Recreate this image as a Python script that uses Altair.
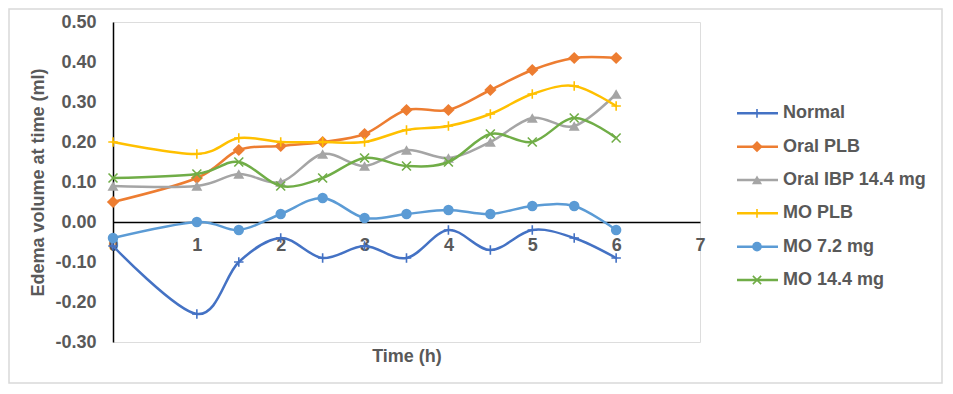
import altair as alt
import pandas as pd

# ---------------- data ----------------
time_h = [0, 1, 1.5, 2, 2.5, 3, 3.5, 4, 4.5, 5, 5.5, 6]
series_names = ["Normal", "Oral PLB", "Oral IBP 14.4 mg", "MO PLB", "MO 7.2 mg", "MO 14.4 mg"]
normal     = [-0.06, -0.23, -0.10, -0.04, -0.09, -0.06, -0.09, -0.02, -0.07, -0.02, -0.04, -0.09]
oral_plb   = [0.05, 0.11, 0.18, 0.19, 0.20, 0.22, 0.28, 0.28, 0.33, 0.38, 0.41, 0.41]
oral_ibp   = [0.09, 0.09, 0.12, 0.10, 0.17, 0.14, 0.18, 0.16, 0.20, 0.26, 0.24, 0.32]
mo_plb     = [0.20, 0.17, 0.21, 0.20, 0.20, 0.20, 0.23, 0.24, 0.27, 0.32, 0.34, 0.29]
mo_72      = [-0.04, 0.00, -0.02, 0.02, 0.06, 0.01, 0.02, 0.03, 0.02, 0.04, 0.04, -0.02]
mo_144     = [0.11, 0.12, 0.15, 0.09, 0.11, 0.16, 0.14, 0.15, 0.22, 0.20, 0.26, 0.21]
series_values = [normal, oral_plb, oral_ibp, mo_plb, mo_72, mo_144]
x_ticks = [0, 1, 2, 3, 4, 5, 6, 7]
y_ticks = [-0.3, -0.2, -0.1, 0.0, 0.1, 0.2, 0.3, 0.4, 0.5]

# ---------------- styles ----------------
PLUS = "M-1,0L1,0M0,-1L0,1"
XMARK = "M-1,-1L1,1M-1,1L1,-1"
colors = ["#4472C4", "#ED7D31", "#A5A5A5", "#FFC000", "#5B9BD5", "#70AD47"]
shapes = [PLUS, "diamond", "triangle-up", PLUS, "circle", XMARK]
filled = [False, True, True, False, True, False]
sizes = [90, 150, 120, 90, 110, 80]
FONT = "Liberation Sans"
GREY = "#595959"

rows = []
for name, vals in zip(series_names, series_values):
    for t, v in zip(time_h, vals):
        rows.append({"series": name, "time": t, "value": v})
df = pd.DataFrame(rows)
leg = pd.DataFrame({"series": series_names})

W, H = 587, 320
ymin, ymax = -0.3, 0.5
zero_offset = -H * (0 - ymin) / (ymax - ymin)

x_scale = alt.Scale(domain=[0, 7], nice=False, zero=False)
y_scale = alt.Scale(domain=[ymin, ymax], nice=False, zero=False)

x_axis = alt.Axis(
    values=x_ticks, offset=zero_offset, domainColor="black", domainWidth=1.5,
    ticks=False, tickSize=0, grid=False, labelPadding=14, labelFont=FONT,
    labelFontSize=18, labelFontWeight="bold", labelColor=GREY,
    title="Time (h)", titleFont=FONT, titleFontSize=18, titleFontWeight="bold",
    titleColor=GREY, titleY=139, titleBaseline="alphabetic", labelFlush=False,
    labelOverlap=False,
)
y_axis = alt.Axis(
    values=y_ticks, domainColor="black", domainWidth=1.5, ticks=False, tickSize=0,
    grid=False, labelPadding=17, labelFont=FONT, labelFontSize=18,
    labelFontWeight="bold", labelColor=GREY,
    labelExpr="replace(format(datum.value, '.2f'), '\u2212', '-')",
    title="Edema volume at time (ml)", titleFont=FONT, titleFontSize=18,
    titleFontWeight="bold", titleColor=GREY, titleAngle=270, titleX=-75,
    titleY=H / 2, titleBaseline="middle", titleAlign="center", labelOverlap=False,
    labelFlush=False,
)

layers = []

# chart-area border (decoration)
layers.append(
    alt.Chart(leg).mark_rect(fillOpacity=0, stroke="#d9d9d9", strokeWidth=1.5).encode(
        x=alt.value(-104), x2=alt.value(W + 242), y=alt.value(-13), y2=alt.value(H + 41)
    ).transform_filter(alt.datum.series == "Normal")
)

first = True
for name, col, shp, fil, sz in zip(series_names, colors, shapes, filled, sizes):
    base = alt.Chart(df).transform_filter(alt.datum.series == name)
    xenc = alt.X("time:Q", scale=x_scale, axis=x_axis)
    yenc = alt.Y("value:Q", scale=y_scale, axis=y_axis if first else None)
    line = base.mark_line(interpolate="cardinal", color=col, strokeWidth=2.5,
                          strokeCap="round", clip=False).encode(x=xenc, y=yenc)
    if fil:
        pt = base.mark_point(shape=shp, filled=True, color=col, size=sz, opacity=1)
    else:
        pt = base.mark_point(shape=shp, filled=False, color=col, size=sz,
                             strokeWidth=1.6, opacity=1)
    pt = pt.encode(x=alt.X("time:Q", scale=x_scale, axis=x_axis),
                   y=alt.Y("value:Q", scale=y_scale, axis=None))
    layers += [line, pt]
    first = False

# legend (drawn from series list through an ordinal point scale)
leg_scale = alt.Scale(type="point", domain=series_names, range=[91.3, 258], padding=0)
leg_y = alt.Y("series:N", scale=leg_scale, axis=None)
leg_color = alt.Color("series:N", scale=alt.Scale(domain=series_names, range=colors), legend=None)

layers.append(
    alt.Chart(leg).mark_rule(strokeWidth=2.5).encode(
        x=alt.value(624), x2=alt.value(665), y=leg_y, color=leg_color
    )
)
for name, col, shp, fil, sz in zip(series_names, colors, shapes, filled, sizes):
    lb = alt.Chart(leg).transform_filter(alt.datum.series == name)
    if fil:
        m = lb.mark_point(shape=shp, filled=True, color=col, size=sz * 0.85, opacity=1)
    else:
        m = lb.mark_point(shape=shp, filled=False, color=col, size=sz * 0.85,
                          strokeWidth=1.6, opacity=1)
    layers.append(m.encode(x=alt.value(644), y=leg_y))

layers.append(
    alt.Chart(leg).mark_text(align="left", baseline="middle", font=FONT, fontSize=18,
                             fontWeight="bold", color=GREY).encode(
        x=alt.value(670), y=leg_y, text="series:N"
    )
)

chart = alt.layer(*layers).resolve_scale(y="independent").properties(
    width=W, height=H,
    autosize=alt.AutoSizeParams(type="none"),
    padding={"left": 105, "top": 14, "right": 243, "bottom": 42},
).configure_view(stroke=None).configure(background="white")

chart.save("out.html", embed_options={"renderer": "svg", "actions": False})
